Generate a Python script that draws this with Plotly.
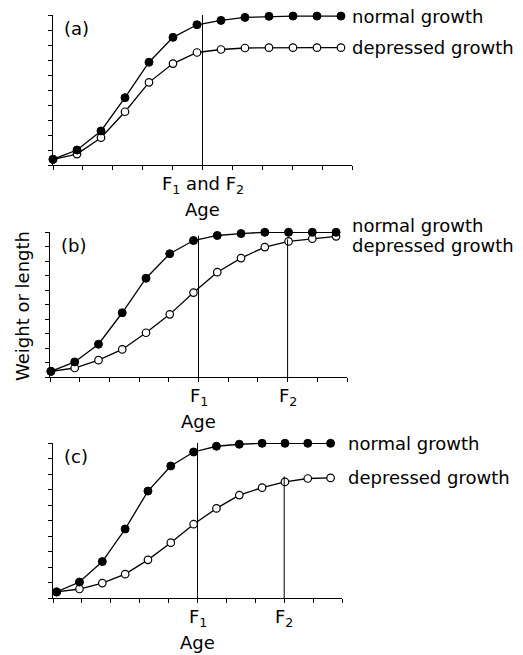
import plotly.graph_objects as go
import numpy as np

# ---------------- data ----------------
ages = list(range(13))

a_normal = [0.38, 1.0, 2.27, 4.49, 6.85, 8.51, 9.35, 9.64, 9.84, 9.91, 9.93, 9.93, 9.93]
a_depressed = [0.38, 0.73, 1.82, 3.55, 5.51, 6.76, 7.50, 7.70, 7.80, 7.82, 7.82, 7.82, 7.82]

b_normal = [0.39, 1.04, 2.26, 4.43, 6.81, 8.50, 9.41, 9.76, 9.89, 9.98, 9.98, 9.98, 9.98]
b_depressed = [0.39, 0.62, 1.16, 1.90, 3.05, 4.32, 5.82, 7.23, 8.20, 8.96, 9.35, 9.54, 9.70]

c_normal = [0.39, 1.03, 2.35, 4.45, 6.90, 8.52, 9.42, 9.79, 9.92, 9.98, 9.98, 9.98, 9.98]
c_depressed = [0.39, 0.58, 0.96, 1.54, 2.46, 3.57, 4.76, 5.78, 6.64, 7.12, 7.49, 7.71, 7.75]

panel_letters = ["(a)", "(b)", "(c)"]
f_tick_index = [[5], [5, 8], [5, 8]]            # F marks sit on these age ticks
f_line_top = [[10.0], [9.75, 9.5], [10.0, 7.85]]
f_labels = [["F<sub>1</sub> and F<sub>2</sub>"], ["F<sub>1</sub>", "F<sub>2</sub>"],
            ["F<sub>1</sub>", "F<sub>2</sub>"]]
series_names = ["normal growth", "depressed growth"]
x_title = "Age"
y_title = "Weight or length"

# ---------------- layout geometry ----------------
W, H = 523, 655
FONT = "DejaVu Sans"
FS = 18

x_px = [(53, 352), (50, 347), (53, 342)]
y_px = [(15, 165), (232, 377), (443, 598)]
x_ranges = [(0.0, 12.46), (-0.04, 12.46), (-0.16, 12.5)]
label_xshift = [9, 14, 15]
label_yshift = [[0, 0], [7, -9], [0, 0]]

normals = [a_normal, b_normal, c_normal]
depresseds = [a_depressed, b_depressed, c_depressed]

fig = go.Figure()
annotations = []
shapes = []

for i in range(3):
    sfx = "" if i == 0 else str(i + 1)
    xa, ya = "x" + sfx, "y" + sfx
    r0, r1 = x_ranges[i]
    ticks = list(np.linspace(r0, r1, 11))

    fig.add_trace(go.Scatter(
        x=ages, y=depresseds[i], xaxis=xa, yaxis=ya, mode="lines+markers",
        line=dict(color="black", width=1.3),
        marker=dict(symbol="circle", size=7.5, color="white",
                    line=dict(color="black", width=1.2)),
        cliponaxis=False, showlegend=False))
    fig.add_trace(go.Scatter(
        x=ages, y=normals[i], xaxis=xa, yaxis=ya, mode="lines+markers",
        line=dict(color="black", width=1.3),
        marker=dict(symbol="circle", size=8, color="black",
                    line=dict(color="black", width=1)),
        cliponaxis=False, showlegend=False))

    xdom = [x_px[i][0] / W, x_px[i][1] / W]
    ydom = [1 - y_px[i][1] / H, 1 - y_px[i][0] / H]
    fig.layout["xaxis" + sfx] = dict(
        domain=xdom, range=[r0, r1], anchor=ya, showgrid=False, zeroline=False,
        showline=True, linecolor="black", linewidth=1.2, ticks="outside",
        ticklen=4, tickwidth=1.2, tickcolor="black", tickvals=ticks,
        showticklabels=False)
    fig.layout["yaxis" + sfx] = dict(
        domain=ydom, range=[0, 10], anchor=xa, showgrid=False, zeroline=False,
        showline=True, linecolor="black", linewidth=1.2, ticks="outside",
        ticklen=4, tickwidth=1.2, tickcolor="black", tickvals=list(range(11)),
        showticklabels=False)

    # F lines and labels
    for k, ti in enumerate(f_tick_index[i]):
        fx = ticks[ti]
        shapes.append(dict(type="line", xref=xa, yref=ya, x0=fx, x1=fx,
                           y0=0, y1=f_line_top[i][k],
                           line=dict(color="black", width=1)))
        annotations.append(dict(xref=xa, yref="paper", x=fx,
                                y=1 - (y_px[i][1] + 20) / H,
                                text=f_labels[i][k], showarrow=False,
                                xanchor="center", yanchor="middle",
                                font=dict(family=FONT, size=FS, color="black")))
    # Age title
    annotations.append(dict(xref=xa, yref="paper", x=ticks[5],
                            y=1 - (y_px[i][1] + 44) / H, text=x_title,
                            showarrow=False, xanchor="center", yanchor="middle",
                            font=dict(family=FONT, size=FS, color="black")))
    # panel letter
    annotations.append(dict(xref="paper", yref="paper",
                            x=(x_px[i][0] + 9) / W, y=1 - (y_px[i][0] + 13) / H,
                            text=panel_letters[i], showarrow=False,
                            xanchor="left", yanchor="middle",
                            font=dict(family=FONT, size=FS, color="black")))
    # series labels
    for j, vals in enumerate([normals[i], depresseds[i]]):
        annotations.append(dict(xref=xa, yref=ya, x=ages[-1], y=vals[-1],
                                text=series_names[j], showarrow=False,
                                xanchor="left", yanchor="middle",
                                xshift=label_xshift[i], yshift=label_yshift[i][j],
                                font=dict(family=FONT, size=FS, color="black")))

annotations.append(dict(xref="paper", yref="paper", x=22 / W, y=1 - 306 / H,
                        text=y_title, textangle=-90, showarrow=False,
                        xanchor="center", yanchor="middle",
                        font=dict(family=FONT, size=FS, color="black")))

fig.update_layout(width=W, height=H, autosize=False,
                  margin=dict(l=0, r=0, t=0, b=0),
                  paper_bgcolor="white", plot_bgcolor="white",
                  annotations=annotations, shapes=shapes, showlegend=False)

fig.write_html("out.html", config={"displayModeBar": False},
               post_script="document.body.style.margin='0';"
                           "document.body.style.overflow='hidden';")
